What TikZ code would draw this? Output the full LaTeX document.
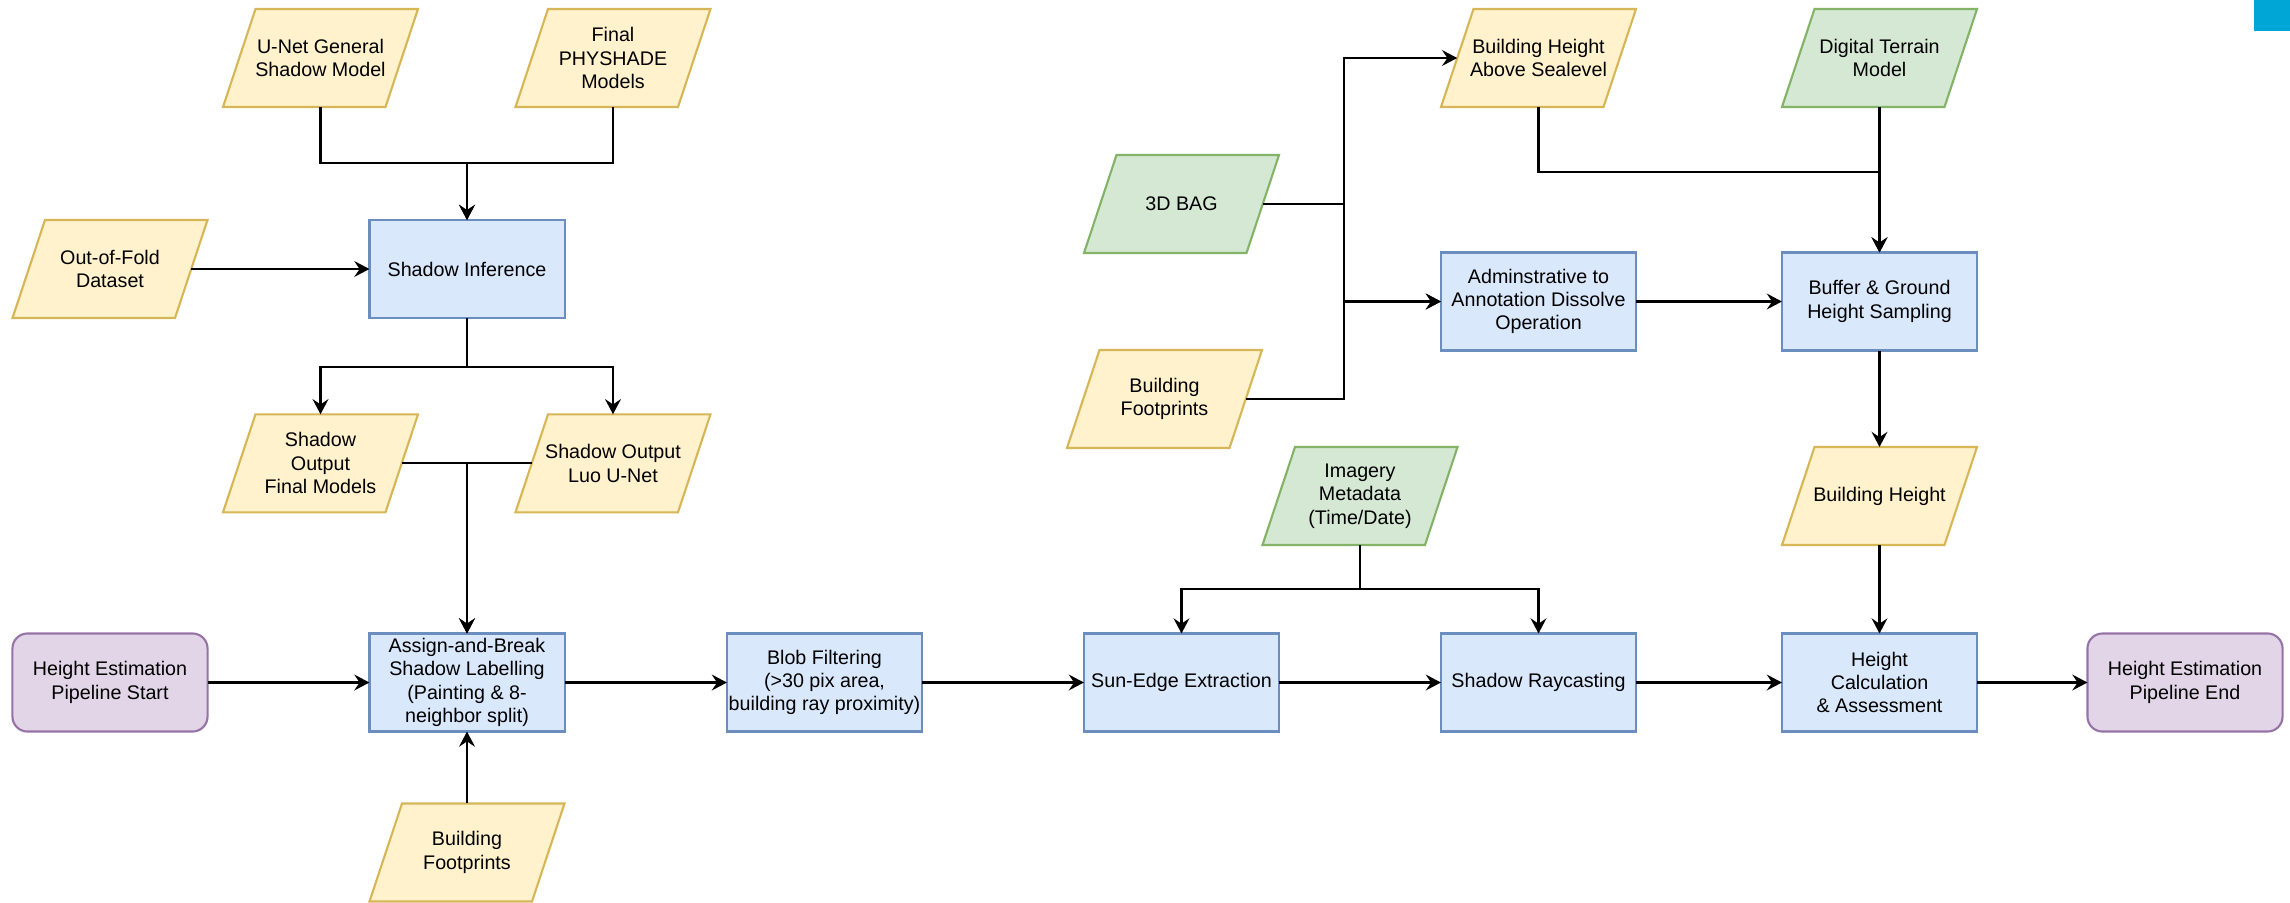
\documentclass[tikz,border=0pt]{standalone}
\usepackage{fontspec}
\setmainfont{Liberation Sans}
\usetikzlibrary{arrows.meta,calc,backgrounds}
\definecolor{yfill}{HTML}{FFF2CC}
\definecolor{ydraw}{HTML}{D6B656}
\definecolor{bfill}{HTML}{DAE8FC}
\definecolor{bdraw}{HTML}{6C8EBF}
\definecolor{gfill}{HTML}{D5E8D4}
\definecolor{gdraw}{HTML}{82B366}
\definecolor{pfill}{HTML}{E1D5E7}
\definecolor{pdraw}{HTML}{9673A6}
\definecolor{cornerblue}{HTML}{00A6D6}
\begin{document}
\begin{tikzpicture}[x=0.01cm,y=0.01cm,
  every node/.style={font=\fontsize{5.6pt}{6.65pt}\selectfont, align=center, inner sep=0pt, outer sep=0pt, text=black},
  procbox/.style={draw=bdraw, fill=bfill, line width=0.6pt, minimum width=1.95cm, minimum height=0.98cm},
  termbox/.style={draw=pdraw, fill=pfill, line width=0.6pt, rounded corners=0.15cm, minimum width=1.95cm, minimum height=0.98cm},
  databox/.style={minimum width=1.95cm, minimum height=0.98cm, outer xsep=-0.1625cm},
  arr/.style={line width=0.6pt, -{Stealth[length=4.3pt,width=4.5pt,inset=1.5pt]}},
  yshape/.style={draw=ydraw, fill=yfill, line width=0.6pt},
  gshape/.style={draw=gdraw, fill=gfill, line width=0.6pt},
]
\useasboundingbox (0,0) rectangle (2290,-902);

% nodes
\node[databox] (unet) at (320.5,-58) {U-Net General\\Shadow Model};
\node[databox] (physhade) at (613,-58) {Final\\PHYSHADE\\Models};
\node[databox] (ofd) at (110,-269) {Out-of-Fold\\Dataset};
\node[procbox] (shinf) at (467,-269) {Shadow Inference};
\node[databox] (sofm) at (320.5,-463.3) {Shadow\\Output\\Final Models};
\node[databox] (soluo) at (613,-463.3) {Shadow Output\\Luo U-Net};
\node[termbox] (pstart) at (110,-682.5) {Height Estimation\\Pipeline Start};
\node[procbox] (assign) at (467,-682.5) {Assign-and-Break\\Shadow Labelling\\(Painting \& 8-\\neighbor split)};
\node[procbox] (blob) at (824.5,-682.5) {Blob Filtering\\(>30 pix area,\\building ray proximity)};
\node[databox] (bfpa) at (467,-852.5) {Building\\Footprints};
\node[procbox] (sun) at (1181.5,-682.5) {Sun-Edge Extraction};
\node[procbox] (ray) at (1538.5,-682.5) {Shadow Raycasting};
\node[procbox] (calc) at (1879.5,-682.5) {Height\\Calculation\\\& Assessment};
\node[termbox] (fin) at (2185,-682.5) {Height Estimation\\Pipeline End};
\node[databox] (meta) at (1360,-496) {Imagery\\Metadata\\(Time/Date)};
\node[databox] (bh) at (1879.5,-496) {Building Height};
\node[procbox] (buffer) at (1879.5,-301.5) {Buffer \& Ground\\Height Sampling};
\node[procbox] (admin) at (1538.5,-301.5) {Adminstrative to\\Annotation Dissolve\\Operation};
\node[databox] (bag) at (1181.5,-204) {3D BAG};
\node[databox] (bfpb) at (1164.5,-399) {Building\\Footprints};
\node[databox] (bhas) at (1538.5,-58) {Building Height\\Above Sealevel};
\node[databox] (dtm) at (1879.5,-58) {Digital Terrain\\Model};

% parallelogram outlines
\begin{scope}[on background layer]
\foreach \n in {unet,physhade,ofd,sofm,soluo,bfpa,bfpb,bhas,bh}
  \draw[yshape] ($(\n.center)+(-97.5,-49)$) -- ($(\n.center)+(65,-49)$) -- ($(\n.center)+(97.5,49)$) -- ($(\n.center)+(-65,49)$) -- cycle;
\foreach \n in {bag,dtm,meta}
  \draw[gshape] ($(\n.center)+(-97.5,-49)$) -- ($(\n.center)+(65,-49)$) -- ($(\n.center)+(97.5,49)$) -- ($(\n.center)+(-65,49)$) -- cycle;
\end{scope}

% junction points
\coordinate (m1) at (467,-163.3);
\coordinate (m2) at (467,-366.7);
\coordinate (m3) at (467,-463.3);
\coordinate (m4) at (1360,-589.3);
\coordinate (m5) at (1879.5,-171.8);
\coordinate (v) at (1344,-301.5);

% connectors
\draw[arr] (unet.south) |- (m1) -- (shinf.north);
\draw[arr] (physhade.south) |- (m1) -- (shinf.north);
\draw[arr] (ofd.east) -- (shinf.west);
\draw[arr] (shinf.south) -- (m2) -| (sofm.north);
\draw[arr] (m2) -| (soluo.north);
\draw[arr] (sofm.east) -- (m3) -- (assign.north);
\draw[arr] (soluo.west) -- (m3) -- (assign.north);
\draw[arr] (pstart.east) -- (assign.west);
\draw[arr] (bfpa.north) -- (assign.south);
\draw[arr] (assign.east) -- (blob.west);
\draw[arr] (blob.east) -- (sun.west);
\draw[arr] (sun.east) -- (ray.west);
\draw[arr] (ray.east) -- (calc.west);
\draw[arr] (calc.east) -- (fin.west);
\draw[arr] (meta.south) -- (m4) -| (sun.north);
\draw[arr] (m4) -| (ray.north);
\draw[arr] (bh.south) -- (calc.north);
\draw[arr] (buffer.south) -- (bh.north);
\draw[arr] (bhas.south) |- (m5) -- (buffer.north);
\draw[arr] (dtm.south) -- (buffer.north);
\draw[arr] (admin.east) -- (buffer.west);
\draw[arr] (bag.east) -- (bag.east -| v) |- (bhas.west);
\draw[arr] (bag.east) -- (bag.east -| v) |- (admin.west);
\draw[arr] (bfpb.east) -- (bfpb.east -| v) |- (admin.west);

% corner mark
\fill[cornerblue] (2254.3,0) rectangle (2290,-31);
\end{tikzpicture}
\end{document}
